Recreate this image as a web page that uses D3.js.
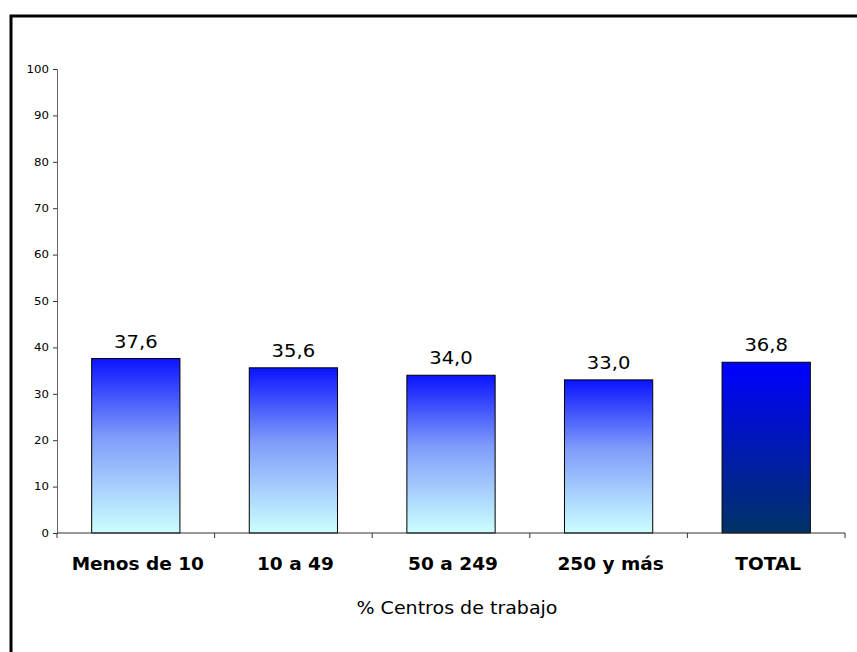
<!DOCTYPE html>
<html><head><meta charset="utf-8">
<script src="https://cdn.jsdelivr.net/npm/d3@7/dist/d3.min.js"></script>
<style>body{margin:0;background:#fff}svg{display:block}</style>
</head><body>
<script>
const categories = ["Menos de 10", "10 a 49", "50 a 249", "250 y más", "TOTAL"];
const values = [37.6, 35.6, 34.0, 33.0, 36.8];
const yTicks = [0, 10, 20, 30, 40, 50, 60, 70, 80, 90, 100];
const axisTitle = "% Centros de trabajo";

const W = 857, H = 652;
const SX = 1.12; // horizontal text stretch seen in the reference
const svg = d3.select("body").append("svg").attr("width", W).attr("height", H);
const font = "Verdana, 'DejaVu Sans', sans-serif";

const defs = svg.append("defs");
const g1 = defs.append("linearGradient").attr("id", "gLight").attr("x1", 0).attr("y1", 0).attr("x2", 0).attr("y2", 1);
g1.append("stop").attr("offset", "0%").attr("stop-color", "#0a14ff");
g1.append("stop").attr("offset", "45%").attr("stop-color", "#7f9cfa");
g1.append("stop").attr("offset", "100%").attr("stop-color", "#ccffff");
const g2 = defs.append("linearGradient").attr("id", "gDark").attr("x1", 0).attr("y1", 0).attr("x2", 0).attr("y2", 1);
g2.append("stop").attr("offset", "0%").attr("stop-color", "#0000ff");
g2.append("stop").attr("offset", "100%").attr("stop-color", "#003366");

// frame
svg.append("rect").attr("x", 11).attr("y", 16).attr("width", W).attr("height", H)
  .attr("fill", "none").attr("stroke", "#000").attr("stroke-width", 3);

const x0 = 57, x1 = 845, yTop = 69, yBot = 533;
const x = d3.scaleBand().domain(categories).range([x0, x1]).paddingInner(0.44).paddingOuter(0.22);
const y = d3.scaleLinear().domain([0, 100]).range([yBot, yTop]);

// y axis
const ya = svg.append("g").attr("transform", `translate(${x0},0)`)
  .call(d3.axisLeft(y).tickValues(yTicks).tickSize(4).tickPadding(4));
ya.select(".domain").attr("stroke", "#666");
ya.selectAll(".tick line").attr("stroke", "#333");
ya.selectAll("text").attr("font-family", font).attr("font-size", 10.5).attr("fill", "#000")
  .attr("x", -8 / SX).attr("transform", `scale(${SX},1)`);

// bars
svg.selectAll("rect.bar").data(values).join("rect").attr("class", "bar")
  .attr("x", (d, i) => x(categories[i]))
  .attr("y", d => y(d))
  .attr("width", x.bandwidth())
  .attr("height", d => y(0) - y(d))
  .attr("fill", (d, i) => i === categories.length - 1 ? "url(#gDark)" : "url(#gLight)")
  .attr("stroke", "#000").attr("stroke-width", 1);

// value labels
svg.selectAll("text.val").data(values).join("text").attr("class", "val")
  .attr("transform", (d, i) => `translate(${x(categories[i]) + x.bandwidth() / 2},${y(d) - 11}) scale(${SX},1)`)
  .attr("text-anchor", "middle")
  .attr("font-family", font).attr("font-size", 17.5)
  .text(d => d.toFixed(1).replace(".", ","));

// x axis
const step = (x1 - x0) / categories.length;
svg.append("line").attr("x1", x0).attr("x2", x1).attr("y1", yBot).attr("y2", yBot).attr("stroke", "#333");
const bounds = d3.range(categories.length + 1).map(i => x0 + i * step);
svg.selectAll("line.xt").data(bounds).join("line").attr("class", "xt")
  .attr("x1", d => d).attr("x2", d => d).attr("y1", yBot).attr("y2", yBot + 5).attr("stroke", "#333");
svg.selectAll("text.cat").data(categories).join("text").attr("class", "cat")
  .attr("transform", d => `translate(${x(d) + x.bandwidth() / 2 + 2},570) scale(1.09,1)`)
  .attr("text-anchor", "middle")
  .attr("font-family", font).attr("font-size", 17).attr("font-weight", "bold")
  .text(d => d);

svg.append("text").attr("transform", `translate(${(x0 + x1) / 2 + 6},614) scale(${SX},1)`)
  .attr("text-anchor", "middle")
  .attr("font-family", font).attr("font-size", 17).text(axisTitle);
</script>
</body></html>
